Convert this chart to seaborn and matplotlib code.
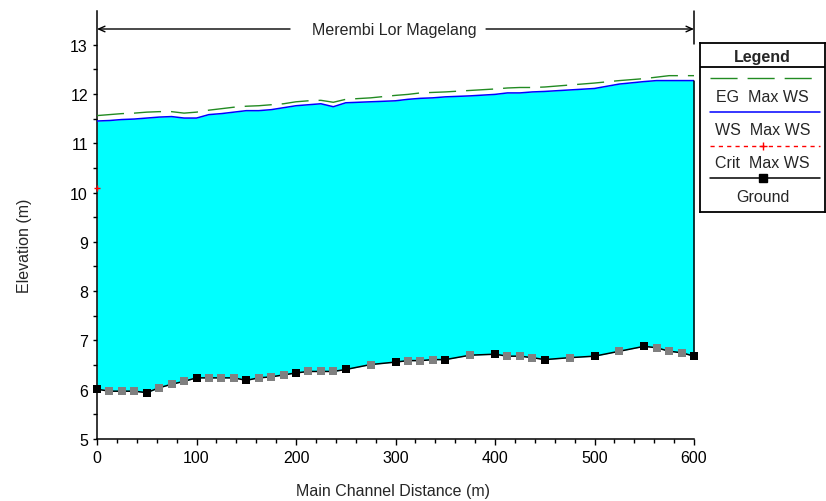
import matplotlib
matplotlib.use("Agg")
import matplotlib.pyplot as plt
import seaborn as sns
import pandas as pd
from matplotlib.lines import Line2D

# ---------------- data ----------------
station = [0, 12.5, 25, 37.5, 50, 62.5, 75, 87.5, 100, 112.5, 125, 137.5, 150,
           162.5, 175, 187.5, 200, 212.5, 225, 237.5, 250, 275, 300, 312.5, 325,
           337.5, 350, 375, 400, 412.5, 425, 437.5, 450, 475, 500, 525, 550,
           562.5, 575, 587.5, 600]
ground = [6.01, 5.97, 5.97, 5.97, 5.94, 6.04, 6.11, 6.17, 6.24, 6.24, 6.24, 6.24,
          6.19, 6.24, 6.26, 6.30, 6.34, 6.37, 6.37, 6.37, 6.41, 6.51, 6.56, 6.59,
          6.59, 6.61, 6.61, 6.70, 6.72, 6.68, 6.68, 6.65, 6.61, 6.65, 6.68, 6.78,
          6.88, 6.85, 6.78, 6.75, 6.68]
ws_max = [11.45, 11.46, 11.48, 11.49, 11.51, 11.53, 11.54, 11.51, 11.51, 11.58,
          11.60, 11.63, 11.66, 11.66, 11.68, 11.72, 11.76, 11.78, 11.80, 11.74,
          11.82, 11.84, 11.86, 11.89, 11.91, 11.92, 11.94, 11.96, 11.99, 12.02,
          12.02, 12.04, 12.05, 12.08, 12.11, 12.20, 12.25, 12.27, 12.27, 12.27, 12.27]
eg_max = [11.56, 11.58, 11.60, 11.61, 11.63, 11.64, 11.64, 11.61, 11.63, 11.67,
          11.70, 11.73, 11.75, 11.76, 11.78, 11.80, 11.84, 11.86, 11.87, 11.83,
          11.89, 11.92, 11.97, 11.99, 12.02, 12.03, 12.04, 12.07, 12.10, 12.12,
          12.13, 12.13, 12.14, 12.18, 12.22, 12.27, 12.31, 12.34, 12.37, 12.37, 12.37]
surveyed_stations = [0, 50, 100, 150, 200, 250, 300, 350, 400, 450, 500, 550, 600]
crit_station = [0]
crit_elev = [10.10]

reach_title = "Merembi Lor Magelang"
x_ticks = [0, 100, 200, 300, 400, 500, 600]
y_ticks = [5, 6, 7, 8, 9, 10, 11, 12, 13]
legend_labels = ["EG  Max WS", "WS  Max WS", "Crit  Max WS", "Ground"]

df = pd.DataFrame({"station": station, "ground": ground, "ws": ws_max, "eg": eg_max})
df["surveyed"] = df["station"].isin(surveyed_stations)

# ---------------- style ----------------
sns.set_style("ticks")
plt.rcParams["font.family"] = ["Liberation Sans", "DejaVu Sans"]
FS = 11.5

W, H = 826, 502
fig = plt.figure(figsize=(W / 100, H / 100), dpi=100)
ax_l, ax_r, ax_t, ax_b = 97, 694, 12, 440
ax = fig.add_axes([ax_l / W, 1 - ax_b / H, (ax_r - ax_l) / W, (ax_b - ax_t) / H])

CYAN = "#00FFFF"
BLUE = "#0000FF"
GREEN = "#228B22"
RED = "#FF0000"
GRAY = "#808080"

ax.fill_between(df["station"], df["ground"], df["ws"], color=CYAN, lw=0, zorder=1)

sns.lineplot(data=df, x="station", y="ws", ax=ax, color=BLUE, lw=1.1,
             estimator=None, sort=False, zorder=3)
sns.lineplot(data=df, x="station", y="eg", ax=ax, color=GREEN, lw=1.0,
             estimator=None, sort=False, zorder=3)
ax.lines[-1].set_dashes((19.5, 7.2))
sns.lineplot(data=df, x="station", y="ground", ax=ax, color="black", lw=1.1,
             estimator=None, sort=False, zorder=4)

# right edge of the water body
last = df.iloc[-1]
ax.plot([last["station"], last["station"]], [last["ground"], last["ws"]],
        color="black", lw=1.1, zorder=4, clip_on=False)

sns.scatterplot(data=df[~df["surveyed"]], x="station", y="ground", ax=ax,
                marker="s", s=30, color=GRAY, edgecolor=GRAY, linewidth=0,
                zorder=5, clip_on=False)
sns.scatterplot(data=df[df["surveyed"]], x="station", y="ground", ax=ax,
                marker="s", s=34, color="black", edgecolor="black", linewidth=0,
                zorder=6, clip_on=False)

ax.plot(crit_station, crit_elev, linestyle="none", marker="+", color=RED,
        markersize=5, mew=1.0, zorder=7, clip_on=False)

# axes
y_top = 5 + (ax_b - ax_t) / 49.3
ax.set_xlim(0, 600)
ax.set_ylim(5, y_top)
ax.set_xticks(x_ticks)
ax.set_yticks(y_ticks)
ax.set_xticks(range(0, 601, 20), minor=True)
ax.set_yticks([v / 2 for v in range(10, 27)], minor=True)
ax.tick_params(axis="both", which="both", direction="out", colors="black",
               labelsize=FS, width=1, pad=3.5)
ax.tick_params(axis="x", which="major", length=4.3)
ax.tick_params(axis="x", which="minor", length=3)
ax.tick_params(axis="y", which="major", length=3)
ax.tick_params(axis="y", which="minor", length=3)
for s in ["top", "right"]:
    ax.spines[s].set_visible(False)
for s in ["left", "bottom"]:
    ax.spines[s].set_color("black")
    ax.spines[s].set_linewidth(1.1)
ax.set_facecolor("white")

ax.set_xlabel("Main Channel Distance (m)", fontsize=FS)
ax.set_ylabel("Elevation (m)", fontsize=FS)
ax.xaxis.set_label_coords(0.496, (ax_b - 492) / (ax_b - ax_t))
ax.xaxis.label.set_va("center")
ax.yaxis.set_label_coords((25 - ax_l) / (ax_r - ax_l), (ax_b - 246) / (ax_b - ax_t))
ax.yaxis.label.set_va("center")

# reach title with arrows
y_arrow = 5 + (ax_b - 30) / 49.3
ax.text(298.5, y_arrow, reach_title, ha="center", va="center", fontsize=FS)
arrow_kw = dict(arrowstyle="->,head_length=0.45,head_width=0.2", lw=1.0,
                color="black", shrinkA=0, shrinkB=0)
ax.annotate("", xy=(0, y_arrow), xytext=(194, y_arrow), arrowprops=arrow_kw,
            annotation_clip=False)
ax.annotate("", xy=(600, y_arrow), xytext=(391, y_arrow), arrowprops=arrow_kw,
            annotation_clip=False)
ax.plot([600, 600], [5 + (ax_b - 45) / 49.3, y_top], color="black", lw=1.1,
        clip_on=False)

# ---------------- legend box ----------------
lg_l, lg_r, lg_t, lg_b = 700, 825, 44, 213
lax = fig.add_axes([lg_l / W, 1 - lg_b / H, (lg_r - lg_l) / W, (lg_b - lg_t) / H])
lax.set_xlim(0, lg_r - lg_l)
lax.set_ylim(lg_b - lg_t, 0)
lax.set_xticks([])
lax.set_yticks([])
for s in lax.spines.values():
    s.set_visible(True)
    s.set_color("black")
    s.set_linewidth(1.3)
lax.axhline(24, color="black", lw=1.3)
cx = (lg_r - lg_l) / 2
lax.text(cx, 13, "Legend", ha="center", va="center", fontsize=FS, fontweight="bold")

x0, x1 = 10, 120
l1 = Line2D([x0, x1], [35, 35], color=GREEN, lw=1.0)
l1.set_dashes((19.5, 7.2))
lax.add_line(l1)
lax.add_line(Line2D([x0, x1], [69, 69], color=BLUE, lw=1.1))
lax.add_line(Line2D([x0, x1], [103, 103], color=RED, lw=1.0, dashes=(3, 3)))
lax.plot([cx], [103], marker="+", color=RED, markersize=6, mew=1.0)
lax.add_line(Line2D([x0, x1], [135, 135], color="black", lw=1.1))
lax.plot([cx], [135], marker="s", color="black", markersize=5.5)
for yy, lab in zip([53, 86, 119, 153], legend_labels):
    lax.text(cx, yy, lab, ha="center", va="center", fontsize=FS)

fig.savefig("out.png", dpi=100, facecolor="white")
